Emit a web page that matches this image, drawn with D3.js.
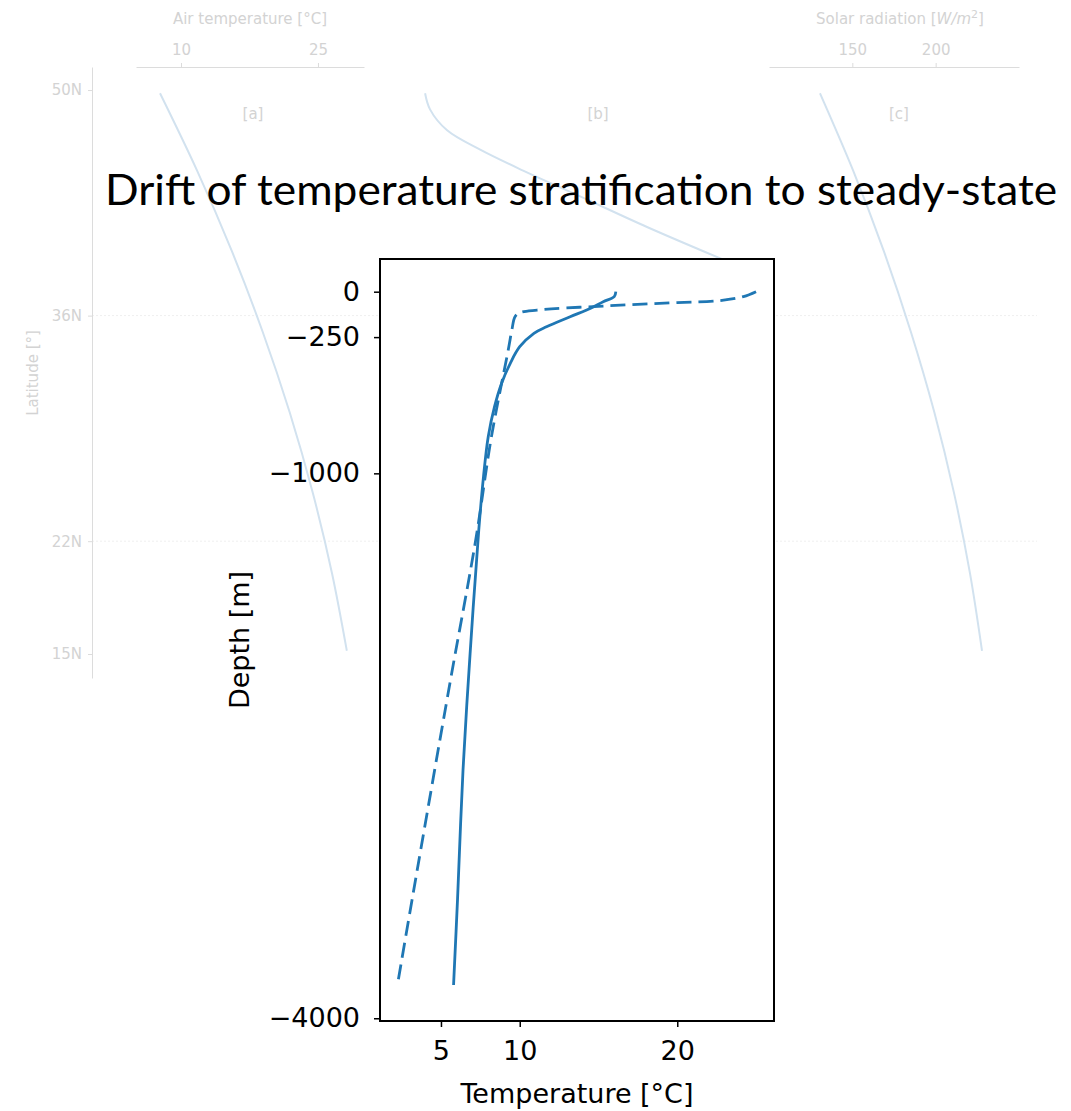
<!DOCTYPE html>
<html>
<head>
<meta charset="utf-8">
<script src="https://cdn.jsdelivr.net/npm/d3@7"></script>
<style>
  body { margin: 0; background: #fff; }
  svg { display: block; }
</style>
</head>
<body>
<div id="chart"></div>
<script>
// faded background figure: forcing profiles against latitude
const latTicks = [50, 36, 22, 15];
const latGrid = [36, 22];
const airTicks = [10, 25];
const solarTicks = [150, 200];

const latA = [49.8, 45, 40, 35, 30, 25, 20, 15.2];
const airTemp = [7.7, 11.76, 15.57, 18.94, 21.9, 24.43, 26.54, 28.16];

const latB = [49.8, 48.8, 47.5, 46.3, 45.0, 43.4, 41.5, 39.5];
const bValues = [6.6, 7.9, 12.4, 21.1, 32.4, 47.4, 65.0, 84.8];

const latC = [49.8, 45, 40, 35, 30, 25, 20, 15.2];
const solarRad = [130.6, 150.5, 168.9, 185.1, 199.2, 211.0, 220.6, 227.8];

// foreground figure: temperature profiles
const depthTicks = [0, -250, -1000, -4000];
const tempTicks = [5, 10, 20];

const depthFinal = [0, -27, -55, -91, -138, -193, -229, -303, -394, -504, -633, -798, -1018, -1312, -1991, -2633, -3348, -3817];
const tempFinal = [16.1, 16.0, 15.3, 14.5, 13.2, 11.7, 10.9, 10.0, 9.4, 8.85, 8.4, 8.0, 7.7, 7.4, 6.85, 6.4, 6.05, 5.8];

const depthInitial = [0, -27, -49, -62, -79, -101, -116, -138, -211, -321, -800, -1370, -2140, -3330, -3810];
const tempInitial = [25.0, 24.2, 22.7, 19.5, 15.3, 11.1, 10.0, 9.7, 9.5, 9.27, 8.2, 7.2, 5.6, 3.2, 2.25];

const W = 1071, H = 1111;
const fadedText = "#d3d3d3";
const fadedLine = "#dcdcdc";
const fadedBlue = "#d2e2ef";
const blue = "#1f77b4";

const svg = d3.select("#chart")
    .append("svg")
    .attr("width", W)
    .attr("height", H)
    .attr("xmlns", "http://www.w3.org/2000/svg");

// ---------- background ----------
const bg = svg.append("g").attr("class", "background");

const latY = d3.scaleLinear().domain([51.43, 13.51]).range([67, 678]);
const airX = d3.scaleLinear().domain([5.07, 30.04]).range([136, 364]);
const bX = d3.scaleLinear().domain([0, 100]).range([400, 780]);
const solarX = d3.scaleLinear().domain([100, 250]).range([769, 1019]);

// grid lines
bg.selectAll(".grid")
    .data(latGrid)
    .enter()
    .append("line")
    .attr("class", "grid")
    .attr("x1", 92).attr("x2", 1037)
    .attr("y1", d => latY(d)).attr("y2", d => latY(d))
    .attr("stroke", "#efefef")
    .attr("stroke-width", 1)
    .attr("stroke-dasharray", "2,2");

function fadeAxis(g) {
    g.selectAll("path").attr("stroke", fadedLine);
    g.selectAll("line").attr("stroke", fadedLine);
    g.selectAll("text")
        .attr("fill", fadedText)
        .style("font-family", "DejaVu Sans, sans-serif")
        .style("font-size", "15px");
}

bg.append("g")
    .attr("transform", "translate(92,0)")
    .call(d3.axisLeft(latY).tickValues(latTicks).tickSizeInner(4).tickSizeOuter(0)
        .tickPadding(6).tickFormat(d => d + "N"))
    .call(fadeAxis);

bg.append("g")
    .attr("transform", "translate(0,67)")
    .call(d3.axisTop(airX).tickValues(airTicks).tickSizeInner(4).tickSizeOuter(0).tickPadding(8))
    .call(fadeAxis);

bg.append("g")
    .attr("transform", "translate(0,67)")
    .call(d3.axisTop(solarX).tickValues(solarTicks).tickSizeInner(4).tickSizeOuter(0).tickPadding(8))
    .call(fadeAxis);

const bgFont = "DejaVu Sans, sans-serif";

bg.append("text")
    .attr("x", 250).attr("y", 24)
    .attr("text-anchor", "middle")
    .attr("fill", fadedText)
    .style("font-family", bgFont).style("font-size", "15px")
    .text("Air temperature [°C]");

const solarLabel = bg.append("text")
    .attr("x", 900).attr("y", 24)
    .attr("text-anchor", "middle")
    .attr("fill", fadedText)
    .style("font-family", bgFont).style("font-size", "15px");
solarLabel.append("tspan").text("Solar radiation [");
solarLabel.append("tspan").style("font-style", "italic").text("W/m");
solarLabel.append("tspan").attr("dy", -6).style("font-size", "11px").text("2");
solarLabel.append("tspan").attr("dy", 6).text("]");

bg.append("text")
    .attr("transform", "translate(38,373) rotate(-90)")
    .attr("text-anchor", "middle")
    .attr("fill", fadedText)
    .style("font-family", bgFont).style("font-size", "15px")
    .text("Latitude [°]");

bg.selectAll(".panel-tag")
    .data([["[a]", 253], ["[b]", 598], ["[c]", 899]])
    .enter()
    .append("text")
    .attr("class", "panel-tag")
    .attr("x", d => d[1]).attr("y", 119)
    .attr("text-anchor", "middle")
    .attr("fill", fadedText)
    .style("font-family", bgFont).style("font-size", "15px")
    .text(d => d[0]);

function fadedCurve(lats, vals, xs, curve) {
    const line = d3.line()
        .x((d, i) => xs(vals[i]))
        .y(d => latY(d))
        .curve(curve);
    bg.append("path")
        .attr("d", line(lats))
        .attr("fill", "none")
        .attr("stroke", fadedBlue)
        .attr("stroke-width", 2);
}
fadedCurve(latA, airTemp, airX, d3.curveMonotoneY);
fadedCurve(latB, bValues, bX, d3.curveCatmullRom.alpha(0.5));
fadedCurve(latC, solarRad, solarX, d3.curveMonotoneY);

// ---------- foreground ----------
const fg = svg.append("g").attr("class", "foreground");
const fgFont = "DejaVu Sans, sans-serif";

const tempX = d3.scaleLinear().domain([1.13, 26.14]).range([380, 774]);
const depthY = d3.scaleLinear().domain([180, -4015]).range([259, 1021]);

fg.append("rect")
    .attr("x", 380).attr("y", 259)
    .attr("width", 394).attr("height", 762)
    .attr("fill", "#fff");

const profile = d3.line()
    .x(d => tempX(d[0]))
    .y(d => depthY(d[1]))
    .curve(d3.curveCatmullRom);

fg.append("path")
    .attr("d", profile(tempInitial.map((t, i) => [t, depthInitial[i]])))
    .attr("fill", "none")
    .attr("stroke", blue)
    .attr("stroke-width", 2.8)
    .attr("stroke-dasharray", "15,7");

fg.append("path")
    .attr("d", profile(tempFinal.map((t, i) => [t, depthFinal[i]])))
    .attr("fill", "none")
    .attr("stroke", blue)
    .attr("stroke-width", 2.8);

fg.append("rect")
    .attr("x", 380).attr("y", 259)
    .attr("width", 394).attr("height", 762)
    .attr("fill", "none")
    .attr("stroke", "#000")
    .attr("stroke-width", 2);

function darkAxis(g) {
    g.select(".domain").remove();
    g.selectAll("line").attr("stroke", "#000").attr("stroke-width", 1.5);
    g.selectAll("text")
        .attr("fill", "#000")
        .style("font-family", fgFont)
        .style("font-size", "27px");
}

fg.append("g")
    .attr("transform", "translate(380,0)")
    .call(d3.axisLeft(depthY).tickValues(depthTicks).tickSize(6).tickPadding(14)
        .tickFormat(d3.format("d")))
    .call(darkAxis);

fg.append("g")
    .attr("transform", "translate(0,1021)")
    .call(d3.axisBottom(tempX).tickValues(tempTicks).tickSize(6).tickPadding(14)
        .tickFormat(d3.format("d")))
    .call(darkAxis);

fg.append("text")
    .attr("x", 577).attr("y", 1103)
    .attr("text-anchor", "middle")
    .style("font-family", fgFont).style("font-size", "27px")
    .text("Temperature [°C]");

fg.append("text")
    .attr("transform", "translate(249,640) rotate(-90)")
    .attr("text-anchor", "middle")
    .style("font-family", fgFont).style("font-size", "27px")
    .text("Depth [m]");

// title laid over the whole figure
svg.append("text")
    .attr("x", 105).attr("y", 205)
    .attr("textLength", 952)
    .attr("lengthAdjust", "spacingAndGlyphs")
    .style("font-family", "Lato, 'Open Sans', sans-serif")
    .style("font-size", "42px")
    .attr("fill", "#000")
    .text("Drift of temperature stratification to steady-state");
</script>
</body>
</html>
